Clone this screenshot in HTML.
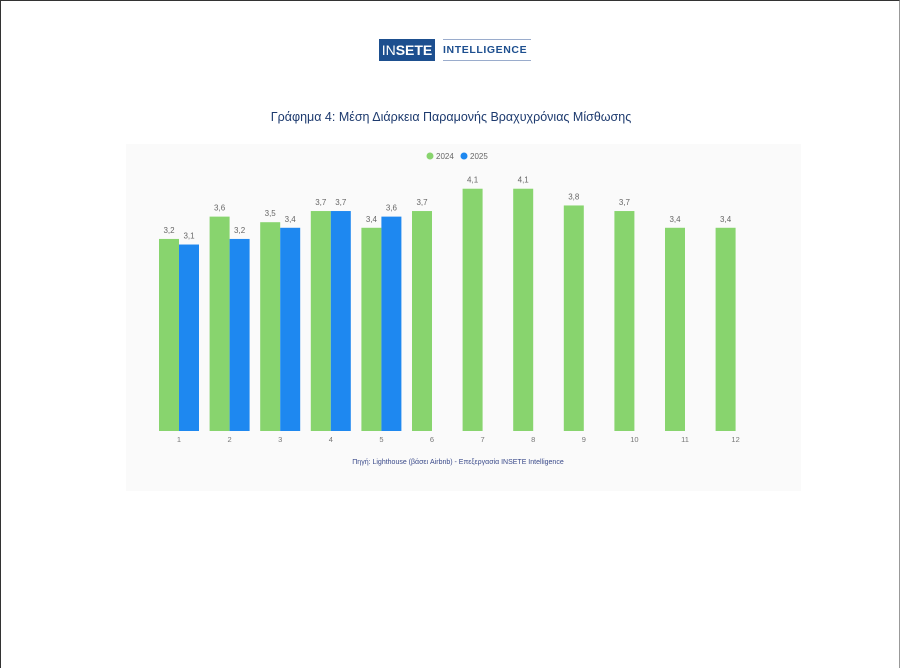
<!DOCTYPE html>
<html><head><meta charset="utf-8">
<style>
body{margin:0;background:#fff;}
#page{position:relative;width:898px;height:667px;border-top:1px solid #333;border-left:1px solid #333;border-right:1px solid #999;background:#fff;overflow:hidden;font-family:"Liberation Sans",sans-serif;}
.logo{position:absolute;left:378px;top:38px;height:22px;}
</style></head>
<body>
<div id="page">
  <div class="logo">
    <div style="position:absolute;left:0;top:0;width:56px;height:22px;background:#1d4f8f;color:#fff;font-size:14px;line-height:22px;text-align:center;"><span style="font-weight:normal">IN</span><b>SETE</b></div>
    <div style="position:absolute;left:64px;top:0;width:88px;height:22px;border-top:1px solid #9aaccc;border-bottom:1px solid #9aaccc;box-sizing:border-box;color:#1d4f8f;font-size:10.5px;line-height:20px;letter-spacing:0.6px;font-weight:bold;white-space:nowrap;overflow:hidden;">INTELLIGENCE</div>
  </div>
  <div style="position:absolute;left:0;width:900px;top:109px;text-align:center;font-size:12.5px;color:#1d3a6e;">Γράφημα 4: Μέση Διάρκεια Παραμονής Βραχυχρόνιας Μίσθωσης</div>
  <svg id="chart" style="position:absolute;left:0;top:0" width="900" height="668"></svg>
</div>
<script>
const months=["1","2","3","4","5","6","7","8","9","10","11","12"];
const values2024=[3.2,3.6,3.5,3.7,3.4,3.7,4.1,4.1,3.8,3.7,3.4,3.4];
const values2025=[3.1,3.2,3.4,3.7,3.6,null,null,null,null,null,null,null];
const seriesNames=["2024","2025"];
const NS="http://www.w3.org/2000/svg";
const svg=document.getElementById('chart');
function mk(t,a,p){const e=document.createElementNS(NS,t);for(const k in a)e.setAttribute(k,a[k]);(p||svg).appendChild(e);return e;}
const x0=178,step=50.6,baseY=430,zeroY=416.5,pxPerUnit=55.8,bw=20;
function xC(i){return x0+i*step;}
function yV(v){return zeroY-v*pxPerUnit;}
const bg=mk('rect',{x:125,y:143,width:675,height:347,fill:'#fafafa'});


const cols=["#88d46e","#1e88f0"];
seriesNames.forEach((s,k)=>{
  const c=mk('circle',{cx:429+k*34,cy:155,r:3.5,fill:cols[k]});
  
  
  const t=mk('text',{x:435+k*34,y:158,'font-size':8,fill:'#666'});t.textContent=s;
  
  
});
months.forEach((m,i)=>{
  const c=xC(i);
  const v1=values2024[i],v2=values2025[i];
  const r1=mk('rect',{x:c-bw,y:yV(v1),width:bw,height:baseY-yV(v1),fill:cols[0]});
  
  
  const l1=mk('text',{x:c-bw/2,y:yV(v1)-6,'font-size':8,fill:'#666','text-anchor':'middle'});l1.textContent=String(v1).replace('.',',');
  
  
  if(v2!=null){
    const r2=mk('rect',{x:c,y:yV(v2),width:bw,height:baseY-yV(v2),fill:cols[1]});
    
    
    const l2=mk('text',{x:c+bw/2,y:yV(v2)-6,'font-size':8,fill:'#666','text-anchor':'middle'});l2.textContent=String(v2).replace('.',',');
    
    
  }
  const t=mk('text',{x:c,y:441,'font-size':7.5,fill:'#777','text-anchor':'middle'});t.textContent=m;
  
  
});
const src=mk('text',{x:457,y:463,'font-size':7,fill:'#3a4a8a','text-anchor':'middle'});
src.textContent="Πηγή: Lighthouse (βάσει Airbnb) - Επεξεργασία INSETE Intelligence";


</script>
</body></html>
